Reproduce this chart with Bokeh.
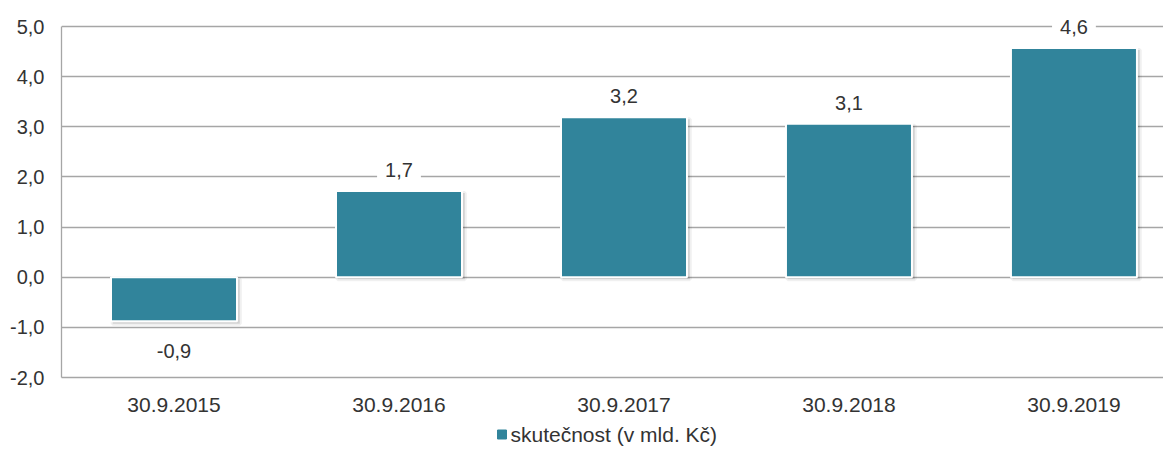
from bokeh.plotting import figure
from bokeh.models import ColumnDataSource, FixedTicker, Range1d
from bokeh.layouts import column
from bokeh.core.properties import value
from bokeh.embed import file_html
from bokeh.resources import INLINE

categories = ["30.9.2015", "30.9.2016", "30.9.2017", "30.9.2018", "30.9.2019"]
values = [-0.88, 1.72, 3.19, 3.06, 4.57]
y_ticks = [-2, -1, 0, 1, 2, 3, 4, 5]
series_name = "skutečnost (v mld. Kč)"

BAR = "#31849b"
TXT = "#333333"
GRID = "#a6a6a6"
FONT = "Liberation Sans"
W = 1163
LEFT = 61

xs = list(range(len(categories)))
labels = [f"{v:.1f}".replace(".", ",") for v in values]
offsets = [-21 if v >= 0 else 30 for v in values]

src = ColumnDataSource(dict(x=xs, top=values, lab=labels, off=offsets,
                            sx=[x + 0.01 for x in xs],
                            stop=[v - 0.04 if v >= 0 else v - 0.05 for v in values],
                            sbot=[-0.04] * len(values)))

p = figure(width=W, height=420, output_backend="svg", toolbar_location=None,
           x_range=Range1d(-0.5, 4.398), y_range=Range1d(-2, 5.4),
           min_border_left=LEFT, min_border_right=0, min_border_top=6, min_border_bottom=43)
p.outline_line_color = None
p.background_fill_color = "white"
p.border_fill_color = "white"

# shadow
p.vbar(x="sx", top="stop", bottom="sbot", width=0.565, source=src,
       fill_color="#000000", fill_alpha=0.12, line_color="#000000", line_alpha=0.06, line_width=4)
p.vbar(x="x", top="top", bottom=0, width=0.56, source=src,
       fill_color=BAR, line_color="white", line_width=2)

p.text(x="x", y="top", text="lab", y_offset="off", source=src,
       text_align="center", text_baseline="middle", text_font=value(FONT),
       text_font_size="20px", text_color=TXT,
       background_fill_color="white", padding=(8, 2))

p.xgrid.grid_line_color = None
p.ygrid.grid_line_color = GRID
p.ygrid.grid_line_width = 1.3
p.ygrid.ticker = FixedTicker(ticks=y_ticks)

ya = p.yaxis[0]
ya.ticker = FixedTicker(ticks=y_ticks)
ya.bounds = (min(y_ticks), max(y_ticks))
ya.major_label_overrides = {t: f"{t:.1f}".replace(".", ",") for t in y_ticks}
ya.axis_line_color = GRID
ya.axis_line_width = 1.3
ya.major_tick_line_color = None
ya.minor_tick_line_color = None
ya.major_label_standoff = 11
ya.major_label_text_font = FONT
ya.major_label_text_font_size = "20px"
ya.major_label_text_color = TXT

xa = p.xaxis[0]
xa.ticker = FixedTicker(ticks=xs)
xa.major_label_overrides = {i: c for i, c in enumerate(categories)}
xa.axis_line_color = GRID
xa.axis_line_width = 1.3
xa.major_tick_line_color = None
xa.minor_tick_line_color = None
xa.major_label_standoff = 14
xa.major_label_text_font = FONT
xa.major_label_text_font_size = "21px"
xa.major_label_text_color = TXT

# legend strip below the chart (screen-like units; frame aligned with main plot)
pl = figure(width=W, height=26, output_backend="svg", toolbar_location=None,
            x_range=Range1d(LEFT, W), y_range=Range1d(0, 26),
            x_axis_location=None, y_axis_location=None, min_border=0)
pl.outline_line_color = None
pl.grid.grid_line_color = None
pl.scatter(x=[501.5], y=[12], marker="square", size=9, fill_color=BAR, line_color=BAR)
pl.text(x=[510], y=[12], text=[series_name], text_align="left", text_baseline="middle",
        text_font=value(FONT), text_font_size="21px", text_color=TXT)

layout = column(p, pl, spacing=0)
open("out.html", "w").write(file_html(layout, INLINE))
